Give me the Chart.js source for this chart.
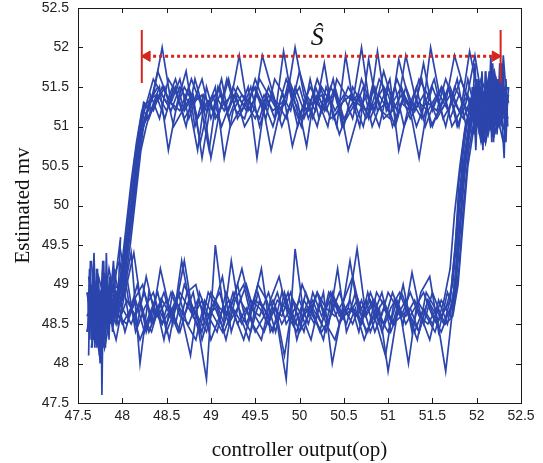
<!DOCTYPE html>
<html>
<head>
<meta charset="utf-8">
<script src="https://cdn.jsdelivr.net/npm/chart.js@4.4.1/dist/chart.umd.min.js"></script>
<style>
  html, body { margin: 0; padding: 0; background: #fff; }
  #wrap { width: 543px; height: 463px; }
</style>
</head>
<body>
<div id="wrap"><canvas id="hyst" width="543" height="463"></canvas></div>
<script>
// ── Data ─────────────────────────────────────────────────
// controller output (op) grids, increasing op (lower branch + rise)
const opUpA = [
  47.6, 47.7, 47.8, 47.9, 48.0, 48.1, 48.2, 48.3, 48.4, 48.5,
  48.6, 48.7, 48.8, 48.9, 49.0, 49.1, 49.2, 49.3, 49.4, 49.5,
  49.6, 49.7, 49.8, 49.9, 50.0, 50.1, 50.2, 50.3, 50.4, 50.5,
  50.6, 50.7, 50.8, 50.9, 51.0, 51.1, 51.2, 51.3, 51.4, 51.5,
  51.6, 51.7, 51.76, 51.8, 51.86, 51.92, 52.0, 52.1, 52.2, 52.3
];
const opUpB = [
  47.65, 47.75, 47.85, 47.95, 48.05, 48.15, 48.25, 48.35, 48.45, 48.55,
  48.65, 48.75, 48.85, 48.95, 49.05, 49.15, 49.25, 49.35, 49.45, 49.55,
  49.65, 49.75, 49.85, 49.95, 50.05, 50.15, 50.25, 50.35, 50.45, 50.55,
  50.65, 50.75, 50.85, 50.95, 51.05, 51.15, 51.25, 51.35, 51.45, 51.55,
  51.65, 51.73, 51.79, 51.84, 51.9, 51.97, 52.05, 52.15, 52.25, 52.35
];
const opUpC = [
  47.63, 47.73, 47.83, 47.93, 48.03, 48.13, 48.23, 48.33, 48.43, 48.53,
  48.63, 48.73, 48.83, 48.93, 49.03, 49.13, 49.23, 49.33, 49.43, 49.53,
  49.63, 49.73, 49.83, 49.93, 50.03, 50.13, 50.23, 50.33, 50.43, 50.53,
  50.63, 50.73, 50.83, 50.93, 51.03, 51.13, 51.23, 51.33, 51.43, 51.53,
  51.63, 51.7, 51.75, 51.81, 51.87, 51.94, 52.03, 52.13, 52.23, 52.33
];
const opUpD = [
  47.67, 47.77, 47.87, 47.97, 48.07, 48.17, 48.27, 48.37, 48.47, 48.57,
  48.67, 48.77, 48.87, 48.97, 49.07, 49.17, 49.27, 49.37, 49.47, 49.57,
  49.67, 49.77, 49.87, 49.97, 50.07, 50.17, 50.27, 50.37, 50.47, 50.57,
  50.67, 50.77, 50.87, 50.97, 51.07, 51.17, 51.27, 51.37, 51.47, 51.57,
  51.67, 51.74, 51.8, 51.85, 51.91, 51.99, 52.08, 52.18, 52.28, 52.36
];
// decreasing op (upper branch + fall)
const opDownA = [
  52.3, 52.2, 52.1, 52.0, 51.9, 51.8, 51.7, 51.6, 51.5, 51.4,
  51.3, 51.2, 51.1, 51.0, 50.9, 50.8, 50.7, 50.6, 50.5, 50.4,
  50.3, 50.2, 50.1, 50.0, 49.9, 49.8, 49.7, 49.6, 49.5, 49.4,
  49.3, 49.2, 49.1, 49.0, 48.9, 48.8, 48.7, 48.6, 48.5, 48.4,
  48.3, 48.24, 48.18, 48.12, 48.06, 48.0, 47.9, 47.8, 47.7, 47.62
];
const opDownB = [
  52.35, 52.25, 52.15, 52.05, 51.95, 51.85, 51.75, 51.65, 51.55, 51.45,
  51.35, 51.25, 51.15, 51.05, 50.95, 50.85, 50.75, 50.65, 50.55, 50.45,
  50.35, 50.25, 50.15, 50.05, 49.95, 49.85, 49.75, 49.65, 49.55, 49.45,
  49.35, 49.25, 49.15, 49.05, 48.95, 48.85, 48.75, 48.65, 48.55, 48.45,
  48.35, 48.25, 48.2, 48.14, 48.08, 48.02, 47.95, 47.85, 47.75, 47.65
];
const opDownC = [
  52.32, 52.22, 52.12, 52.02, 51.92, 51.82, 51.72, 51.62, 51.52, 51.42,
  51.32, 51.22, 51.12, 51.02, 50.92, 50.82, 50.72, 50.62, 50.52, 50.42,
  50.32, 50.22, 50.12, 50.02, 49.92, 49.82, 49.72, 49.62, 49.52, 49.42,
  49.32, 49.22, 49.12, 49.02, 48.92, 48.82, 48.72, 48.62, 48.52, 48.42,
  48.32, 48.27, 48.21, 48.15, 48.09, 48.03, 47.93, 47.83, 47.73, 47.64
];
const opDownD = [
  52.28, 52.18, 52.08, 51.98, 51.88, 51.78, 51.68, 51.58, 51.48, 51.38,
  51.28, 51.18, 51.08, 50.98, 50.88, 50.78, 50.68, 50.58, 50.48, 50.38,
  50.28, 50.18, 50.08, 49.98, 49.88, 49.78, 49.68, 49.58, 49.48, 49.38,
  49.28, 49.18, 49.08, 48.98, 48.88, 48.78, 48.68, 48.58, 48.48, 48.38,
  48.28, 48.22, 48.16, 48.1, 48.04, 47.98, 47.88, 47.78, 47.7, 47.63
];

// estimated mv, one array per traced cycle
const upA1 = [
  48.9, 48.3, 49.1, 48.6, 48.8, 49.4, 48.0, 48.9, 48.6, 48.8,
  48.5, 49.0, 48.7, 48.4, 48.9, 48.7, 48.6, 49.0, 48.5, 48.8,
  48.7, 48.4, 48.9, 48.6, 48.8, 48.5, 48.9, 48.7, 48.6, 48.8,
  49.1, 48.6, 48.8, 48.5, 48.9, 48.7, 48.6, 48.8, 48.5, 48.9,
  48.6, 48.8, 49.5, 50.3, 50.9, 51.2, 51.0, 51.5, 50.9, 51.4
];
const upA2 = [
  48.4, 49.0, 48.2, 48.8, 48.5, 48.7, 48.3, 48.6, 48.9, 48.4,
  48.7, 49.3, 48.6, 48.8, 48.3, 48.6, 48.8, 48.5, 48.7, 48.4,
  48.6, 48.8, 48.5, 48.7, 48.4, 48.6, 48.9, 48.5, 48.3, 48.7,
  48.5, 48.8, 48.4, 48.7, 47.9, 48.6, 48.8, 48.4, 48.7, 48.5,
  48.8, 48.6, 49.1, 49.9, 50.6, 51.1, 51.3, 50.8, 51.6, 51.1
];
const upA3 = [
  48.6, 48.8, 48.4, 49.2, 48.7, 48.5, 48.8, 48.4, 48.7, 48.5,
  48.8, 48.6, 48.9, 48.3, 48.7, 48.9, 48.5, 48.7, 49.0, 48.6,
  48.4, 48.7, 48.6, 48.9, 48.5, 48.8, 48.6, 48.4, 48.8, 48.6,
  48.7, 48.5, 48.9, 48.6, 48.4, 48.8, 48.5, 48.7, 48.9, 48.6,
  48.4, 48.7, 48.9, 49.6, 50.4, 50.9, 51.4, 51.1, 51.3, 50.8
];
const upB1 = [
  49.3, 48.1, 48.9, 48.5, 48.8, 48.6, 48.9, 48.5, 48.8, 48.6,
  48.9, 48.7, 48.5, 47.8, 49.5, 48.6, 48.8, 49.2, 48.7, 48.6,
  48.9, 48.5, 47.8, 49.45, 48.6, 48.8, 48.5, 48.9, 48.6, 48.7,
  49.45, 48.6, 48.8, 48.5, 48.9, 48.6, 48.7, 48.4, 48.8, 48.6,
  47.9, 48.7, 49.3, 50.1, 50.8, 51.2, 51.5, 51.0, 51.4, 51.2
];
const upB2 = [
  48.2, 48.9, 48.5, 48.7, 49.1, 48.4, 48.7, 48.9, 48.5, 48.7,
  48.4, 48.8, 48.6, 48.4, 48.8, 48.5, 48.9, 48.6, 48.4, 48.8,
  48.6, 48.9, 48.5, 48.7, 48.4, 48.9, 48.6, 48.8, 48.5, 48.7,
  48.6, 48.8, 48.4, 48.7, 48.5, 48.9, 48.6, 48.4, 48.8, 48.5,
  48.7, 49.0, 49.8, 50.6, 51.1, 51.4, 51.1, 51.6, 51.2, 51.5
];
const upB3 = [
  48.7, 48.4, 49.2, 48.6, 48.5, 48.8, 48.4, 48.7, 48.5, 48.9,
  48.6, 48.5, 48.8, 48.6, 48.7, 48.4, 48.7, 48.5, 48.8, 48.7,
  48.5, 48.8, 48.7, 48.5, 48.8, 48.6, 48.4, 48.6, 48.9, 48.6,
  48.8, 48.4, 48.6, 48.8, 48.5, 48.6, 48.9, 48.6, 48.5, 48.7,
  48.5, 48.6, 49.0, 49.7, 50.5, 51.0, 51.3, 51.0, 51.5, 51.1
];
const upC1 = [
  48.5, 49.1, 48.7, 48.3, 48.9, 49.4, 48.6, 48.4, 48.8, 48.3,
  48.9, 48.5, 48.3, 48.8, 48.6, 48.4, 49.3, 48.6, 48.3, 48.9,
  48.5, 48.7, 48.1, 48.8, 48.6, 48.3, 48.8, 48.5, 49.2, 48.4,
  48.7, 48.3, 48.6, 48.9, 48.4, 48.7, 48.0, 48.8, 48.6, 48.4,
  48.8, 49.2, 49.9, 50.5, 51.0, 51.3, 51.0, 51.6, 51.2, 50.9
];
const upC2 = [
  49.0, 48.4, 48.6, 48.9, 48.4, 48.8, 49.0, 48.5, 49.2, 48.7,
  48.4, 48.9, 49.0, 48.5, 48.7, 49.1, 48.4, 48.8, 48.6, 49.0,
  48.8, 48.4, 48.9, 48.5, 49.0, 48.7, 48.4, 48.9, 48.7, 48.5,
  48.9, 48.6, 48.8, 48.4, 48.7, 48.9, 48.6, 48.3, 48.9, 48.7,
  48.5, 48.8, 49.4, 50.2, 50.7, 51.1, 51.4, 50.9, 51.5, 51.2
];
const upD1 = [
  48.8, 48.2, 49.0, 49.3, 48.6, 49.0, 48.4, 48.8, 48.3, 48.9,
  48.6, 48.1, 48.9, 48.6, 48.4, 48.9, 48.6, 48.3, 48.7, 49.2,
  48.4, 48.6, 48.9, 48.3, 48.7, 48.5, 48.9, 48.0, 48.6, 48.8,
  48.4, 48.9, 48.5, 48.1, 48.8, 48.5, 49.15, 48.6, 48.3, 48.8,
  48.5, 48.9, 49.6, 50.4, 51.0, 51.5, 51.2, 50.9, 51.6, 51.3
];
const upD2 = [
  48.3, 48.9, 48.6, 49.5, 48.8, 48.5, 49.1, 48.6, 48.9, 48.5,
  49.3, 48.7, 48.4, 48.9, 48.7, 48.3, 48.8, 49.0, 48.5, 48.3,
  48.8, 49.1, 48.6, 48.4, 48.9, 48.6, 48.3, 48.9, 48.6, 49.3,
  48.6, 48.4, 48.9, 48.7, 48.5, 49.0, 48.4, 48.9, 49.1, 48.4,
  48.9, 48.7, 49.2, 50.0, 50.7, 51.2, 50.9, 51.7, 51.1, 51.4
];
const downA1 = [
  51.2, 50.9, 51.5, 51.1, 51.6, 51.0, 51.4, 51.2, 51.5, 51.1,
  51.4, 51.9, 51.2, 51.5, 51.0, 51.3, 51.6, 51.1, 51.4, 51.2,
  51.5, 51.0, 51.3, 51.7, 51.2, 51.4, 51.0, 51.3, 51.6, 51.2,
  51.4, 51.1, 51.5, 51.3, 50.6, 51.4, 51.2, 51.6, 51.3, 51.5,
  51.3, 51.0, 50.5, 49.9, 49.4, 48.9, 49.0, 48.4, 48.9, 48.6
];
const downA2 = [
  51.6, 51.3, 50.8, 51.5, 51.2, 51.4, 51.1, 51.5, 51.2, 51.8,
  51.2, 51.5, 51.1, 51.4, 51.6, 51.2, 52.0, 51.3, 51.1, 51.5,
  51.2, 51.4, 51.1, 51.5, 51.3, 51.0, 51.4, 51.2, 51.5, 51.3,
  51.1, 51.6, 51.2, 50.6, 51.4, 51.3, 51.1, 51.5, 51.2, 51.4,
  51.1, 51.2, 50.8, 50.2, 49.6, 49.0, 48.5, 49.1, 48.6, 48.8
];
const downA3 = [
  51.0, 51.7, 51.3, 51.1, 51.4, 51.2, 51.5, 51.3, 51.0, 51.4,
  51.2, 51.3, 51.6, 51.2, 51.4, 51.1, 51.3, 51.5, 51.0, 51.4,
  51.3, 51.6, 51.2, 51.1, 51.5, 51.3, 51.2, 51.4, 51.1, 51.3,
  51.5, 51.2, 51.4, 51.1, 51.6, 51.3, 51.5, 51.2, 51.4, 51.7,
  51.2, 51.3, 50.9, 50.4, 49.8, 49.2, 48.6, 48.8, 48.5, 49.1
];
const downB1 = [
  51.4, 51.0, 51.3, 51.6, 51.2, 51.5, 51.9, 51.3, 51.1, 51.4,
  51.6, 51.2, 51.3, 51.0, 51.5, 51.3, 51.1, 51.4, 51.2, 50.9,
  51.3, 51.5, 51.1, 51.4, 52.0, 51.3, 51.2, 51.5, 51.1, 51.3,
  51.4, 51.2, 50.6, 51.5, 51.2, 51.4, 51.1, 51.6, 51.3, 52.0,
  51.4, 51.1, 50.8, 50.2, 49.6, 49.0, 48.6, 48.9, 48.6, 48.8
];
const downB2 = [
  51.1, 51.5, 51.2, 50.8, 51.4, 51.1, 51.3, 51.6, 51.2, 51.3,
  50.6, 51.2, 51.5, 51.3, 51.7, 51.2, 51.4, 51.1, 50.7, 51.3,
  51.5, 51.2, 51.4, 51.1, 51.3, 51.6, 51.2, 51.4, 51.0, 51.5,
  51.2, 51.4, 51.3, 51.1, 51.5, 50.7, 51.3, 51.5, 51.2, 51.4,
  51.6, 51.2, 50.9, 50.4, 49.8, 49.3, 48.8, 48.5, 48.8, 48.4
];
const downB3 = [
  51.3, 51.1, 51.6, 51.2, 50.9, 51.3, 51.5, 51.0, 51.4, 51.2,
  51.3, 51.1, 51.4, 51.2, 51.1, 51.5, 51.2, 51.3, 51.5, 51.2,
  51.1, 51.4, 51.3, 51.2, 51.5, 51.1, 51.3, 51.4, 51.6, 51.2,
  51.3, 51.5, 51.2, 51.4, 51.3, 51.1, 51.5, 51.2, 51.3, 51.5,
  51.2, 51.3, 51.0, 50.6, 50.0, 49.4, 48.8, 48.9, 48.3, 48.7
];
const downC1 = [
  51.1, 51.6, 51.0, 51.4, 51.95, 51.2, 51.0, 51.5, 51.3, 51.0,
  51.5, 51.2, 50.7, 51.6, 51.3, 51.0, 51.5, 51.2, 51.9, 51.0,
  51.4, 51.1, 51.6, 51.0, 51.3, 51.95, 51.1, 51.4, 50.6, 51.5,
  51.2, 51.0, 51.6, 51.2, 51.4, 51.0, 51.7, 51.3, 50.7, 51.5,
  51.2, 51.0, 50.7, 50.1, 49.5, 49.0, 48.5, 48.9, 48.2, 48.8
];
const downC2 = [
  51.5, 51.2, 51.4, 51.0, 51.3, 51.6, 51.3, 51.1, 51.6, 51.3,
  51.0, 51.4, 51.85, 51.1, 51.2, 51.5, 51.0, 51.3, 51.4, 51.6,
  51.0, 51.3, 51.5, 51.2, 50.75, 51.4, 51.6, 51.1, 51.4, 51.2,
  51.9, 51.3, 51.0, 51.4, 51.2, 51.6, 51.0, 51.4, 51.6, 51.1,
  51.4, 51.1, 50.9, 50.4, 49.8, 49.2, 48.7, 48.6, 48.9, 48.5
];
const downD1 = [
  51.3, 51.7, 51.1, 51.5, 51.0, 51.6, 51.2, 51.4, 52.0, 51.1,
  51.3, 51.0, 51.5, 51.2, 51.95, 51.1, 51.4, 51.2, 51.0, 51.6,
  51.2, 51.5, 50.75, 51.3, 51.6, 51.1, 51.5, 51.9, 51.2, 51.0,
  51.4, 51.2, 51.5, 50.7, 51.3, 51.6, 51.2, 51.0, 51.5, 51.3,
  51.1, 51.0, 50.6, 50.0, 49.4, 48.9, 48.9, 48.4, 48.8, 48.5
];
const downD2 = [
  51.0, 51.4, 51.2, 51.9, 51.3, 51.0, 51.5, 51.2, 51.0, 51.6,
  51.2, 51.4, 51.0, 51.3, 51.2, 51.85, 51.0, 51.4, 51.3, 51.1,
  51.8, 51.2, 51.4, 51.0, 51.5, 51.2, 50.7, 51.3, 51.5, 51.1,
  51.2, 51.6, 51.1, 51.3, 50.8, 51.4, 51.2, 51.5, 51.1, 51.4,
  51.3, 51.2, 50.8, 50.3, 49.7, 49.1, 48.6, 49.0, 48.6, 48.9
];

// dense reversal clusters at both ends
const leftJitOp   = [47.62, 47.64, 47.66, 47.68, 47.70, 47.72, 47.74, 47.76, 47.77, 47.79, 47.81, 47.83, 47.85, 47.87, 47.89, 47.91];
const leftJitMv   = [48.1, 49.3, 48.2, 49.0, 48.3, 49.2, 48.1, 48.9, 47.6, 49.3, 48.2, 49.1, 48.3, 49.0, 48.4, 49.2];
const leftJit2Op  = [47.63, 47.65, 47.67, 47.69, 47.71, 47.73, 47.75, 47.78, 47.80, 47.82, 47.84, 47.86, 47.88];
const leftJit2Mv  = [49.0, 48.3, 49.1, 48.2, 49.2, 48.4, 48.0, 49.2, 48.3, 49.4, 48.5, 49.1, 48.6];
const leftJit3Op  = [47.61, 47.63, 47.66, 47.68, 47.71, 47.73, 47.75, 47.78, 47.8, 47.83, 47.86, 47.9, 47.94, 47.98];
const leftJit3Mv  = [48.4, 49.2, 48.5, 49.4, 48.3, 49.0, 48.6, 49.3, 48.4, 49.1, 48.7, 49.3, 48.5, 49.6];
const leftJit4Op  = [47.61, 47.63, 47.65, 47.67, 47.69, 47.71, 47.73, 47.75, 47.77, 47.79, 47.81, 47.83, 47.85, 47.87];
const leftJit4Mv  = [48.9, 48.3, 49.0, 48.4, 48.9, 48.2, 49.1, 48.3, 48.8, 48.2, 49.0, 48.4, 48.9, 48.5];
const rightJitOp  = [51.96, 51.99, 52.02, 52.05, 52.08, 52.11, 52.14, 52.17, 52.2, 52.23, 52.26, 52.29, 52.31, 52.33, 52.35];
const rightJitMv  = [51.5, 50.7, 51.6, 50.8, 51.4, 50.9, 51.7, 50.8, 51.6, 50.9, 51.8, 51.0, 50.6, 51.6, 51.0];
const rightJit2Op = [51.97, 52.0, 52.03, 52.06, 52.09, 52.12, 52.15, 52.18, 52.21, 52.24, 52.27, 52.3, 52.34];
const rightJit2Mv = [50.9, 51.6, 51.0, 51.7, 50.8, 51.5, 51.0, 51.8, 51.0, 51.6, 51.1, 51.9, 51.3];
const rightJit3Op = [51.95, 51.98, 52.01, 52.04, 52.07, 52.1, 52.13, 52.16, 52.19, 52.22, 52.25, 52.28, 52.32, 52.36];
const rightJit3Mv = [51.2, 51.8, 51.0, 51.5, 50.7, 51.7, 51.1, 51.9, 50.8, 51.6, 51.2, 51.8, 50.9, 51.5];
const rightJit4Op = [51.93, 51.95, 51.98, 52.0, 52.03, 52.05, 52.08, 52.1, 52.13, 52.15, 52.18, 52.2, 52.23, 52.25, 52.28, 52.3, 52.33, 52.35];
const rightJit4Mv = [51.0, 51.5, 51.1, 51.6, 50.9, 51.5, 51.0, 51.7, 51.1, 51.5, 50.9, 51.6, 51.0, 51.5, 51.1, 51.7, 50.8, 51.4];

// span annotation (S-hat)
const spanMarkOp = [48.22, 52.27];
const spanMarkMv = [52.22, 51.55];
const arrowOp    = [48.28, 52.21];
const arrowMv    = [51.89, 51.89];
const spanLabel  = { op: 50.2, mv: 52.12, text: 'Ŝ' };

const X_TICKS = [47.5, 48, 48.5, 49, 49.5, 50, 50.5, 51, 51.5, 52, 52.5];
const Y_TICKS = [47.5, 48, 48.5, 49, 49.5, 50, 50.5, 51, 51.5, 52, 52.5];

// ── Helpers ──────────────────────────────────────────────
const BLUE = '#2c45ad';
const RED  = '#d2261e';

function pts(xs, ys) {
  return xs.map((x, i) => ({ x: x, y: ys[i] }));
}

function trace(xs, ys) {
  return {
    data: pts(xs, ys),
    showLine: true,
    borderColor: BLUE,
    borderWidth: 1.7,
    pointRadius: 0,
    tension: 0,
    order: 2,
  };
}

// Matlab-style box with inward ticks on all four sides
const boxPlugin = {
  id: 'box',
  afterDraw(chart) {
    const { ctx, chartArea: a, scales } = chart;
    ctx.save();
    ctx.strokeStyle = '#1a1a1a';
    ctx.lineWidth = 1;
    ctx.strokeRect(a.left + 0.5, a.top + 0.5, a.right - a.left, a.bottom - a.top);
    ctx.beginPath();
    X_TICKS.forEach(v => {
      const px = Math.round(scales.x.getPixelForValue(v)) + 0.5;
      ctx.moveTo(px, a.bottom); ctx.lineTo(px, a.bottom - 5);
      ctx.moveTo(px, a.top);    ctx.lineTo(px, a.top + 5);
    });
    Y_TICKS.forEach(v => {
      const py = Math.round(scales.y.getPixelForValue(v)) + 0.5;
      ctx.moveTo(a.left, py);  ctx.lineTo(a.left + 5, py);
      ctx.moveTo(a.right, py); ctx.lineTo(a.right - 5, py);
    });
    ctx.stroke();

    // S-hat label
    ctx.fillStyle = '#111';
    ctx.font = 'italic 26px "Liberation Serif"';
    ctx.textAlign = 'center';
    ctx.textBaseline = 'middle';
    ctx.fillText(spanLabel.text,
      scales.x.getPixelForValue(spanLabel.op),
      scales.y.getPixelForValue(spanLabel.mv));
    ctx.restore();
  }
};

// ── Chart ────────────────────────────────────────────────
const datasets = [
  [opUpA, upA1], [opUpA, upA2], [opUpA, upA3],
  [opUpB, upB1], [opUpB, upB2], [opUpB, upB3],
  [opUpC, upC1], [opUpC, upC2],
  [opUpD, upD1], [opUpD, upD2],
  [opDownA, downA1], [opDownA, downA2], [opDownA, downA3],
  [opDownB, downB1], [opDownB, downB2], [opDownB, downB3],
  [opDownC, downC1], [opDownC, downC2],
  [opDownD, downD1], [opDownD, downD2],
  [leftJitOp, leftJitMv], [leftJit2Op, leftJit2Mv],
  [leftJit3Op, leftJit3Mv], [leftJit4Op, leftJit4Mv],
  [rightJitOp, rightJitMv], [rightJit2Op, rightJit2Mv],
  [rightJit3Op, rightJit3Mv], [rightJit4Op, rightJit4Mv],
].map(([xs, ys]) => trace(xs, ys));

datasets.push(
  {
    data: pts([spanMarkOp[0], spanMarkOp[0]], spanMarkMv),
    showLine: true, borderColor: RED, borderWidth: 2, pointRadius: 0, order: 0,
  },
  {
    data: pts([spanMarkOp[1], spanMarkOp[1]], spanMarkMv),
    showLine: true, borderColor: RED, borderWidth: 2, pointRadius: 0, order: 0,
  },
  {
    data: pts(arrowOp, arrowMv),
    showLine: true,
    borderColor: RED,
    borderWidth: 3,
    borderDash: [3, 3],
    pointStyle: 'triangle',
    pointRotation: [-90, 90],
    pointRadius: 6,
    pointBackgroundColor: RED,
    pointBorderColor: RED,
    pointBorderWidth: 1,
    order: 0,
  }
);

Chart.defaults.font.family = '"Liberation Sans", Arial, sans-serif';
Chart.defaults.color = '#222';

const tickLabel = v => String(v);

new Chart(document.getElementById('hyst'), {
  type: 'scatter',
  data: { datasets: datasets },
  options: {
    responsive: false,
    animation: false,
    events: [],
    layout: { padding: { top: 8, right: 22, left: 0, bottom: 0 } },
    plugins: { legend: { display: false }, tooltip: { enabled: false } },
    scales: {
      x: {
        type: 'linear',
        min: 47.5, max: 52.5,
        grid: { display: false, drawTicks: false },
        border: { display: false },
        ticks: { stepSize: 0.5, autoSkip: false, maxRotation: 0, padding: 5, font: { size: 14 }, callback: tickLabel },
        title: {
          display: true,
          text: 'controller output(op)',
          font: { family: '"Liberation Serif", "Times New Roman", serif', size: 21 },
          color: '#111',
          padding: { top: 0, bottom: 0 },
        },
        afterFit: s => { s.height = 60; s.paddingLeft = 0; s.paddingRight = 0; },
      },
      y: {
        type: 'linear',
        min: 47.5, max: 52.5,
        grid: { display: false, drawTicks: false },
        border: { display: false },
        ticks: { stepSize: 0.5, autoSkip: false, padding: 9, font: { size: 14 }, callback: tickLabel },
        title: {
          display: true,
          text: 'Estimated mv',
          font: { family: '"Liberation Serif", "Times New Roman", serif', size: 21 },
          color: '#111',
          padding: { top: 11, bottom: 0 },
        },
        afterFit: s => { s.width = 78; s.paddingTop = 0; s.paddingBottom = 0; },
      },
    },
  },
  plugins: [boxPlugin],
});
</script>
</body>
</html>
